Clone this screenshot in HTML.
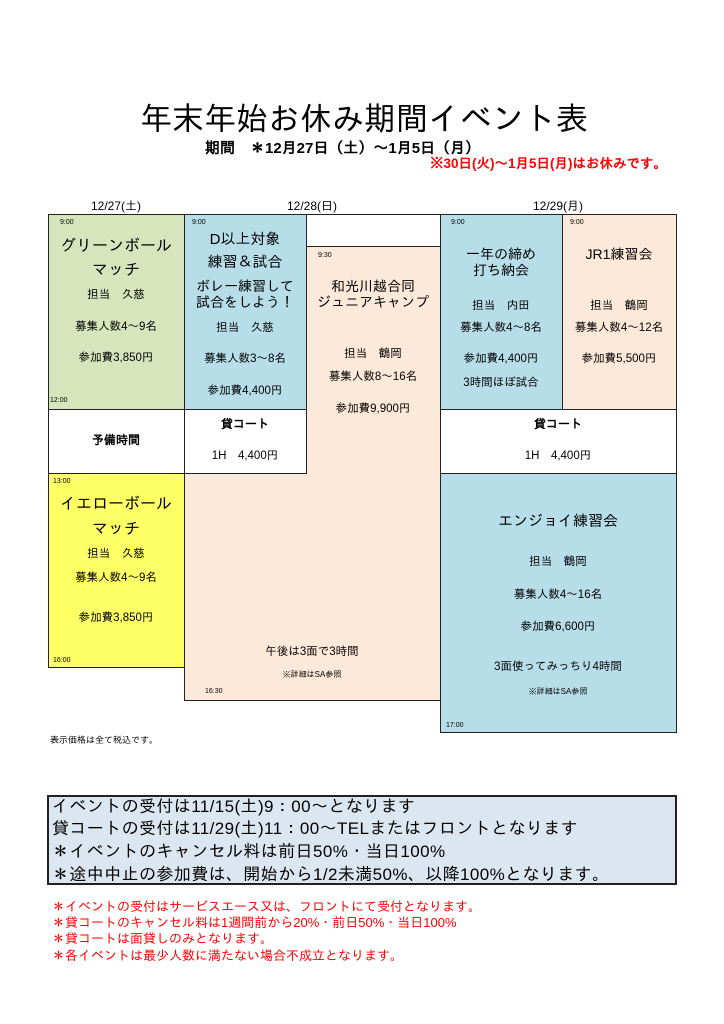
<!DOCTYPE html>
<html><head><meta charset="utf-8"><style>
body{margin:0;width:724px;height:1024px;background:#fff;position:relative;overflow:hidden;font-family:"Liberation Sans","IPAGothic","Noto Sans CJK JP",sans-serif;color:#000}
.b{position:absolute;box-sizing:border-box;border:1px solid #222}
.t{position:absolute;white-space:nowrap;line-height:1;text-align:center}
.s{position:absolute;white-space:nowrap;line-height:1;font-size:7px}
.m{font-size:11.5px}
</style></head><body>
<div class="t" style="left:140px;top:103px;font-size:32px;text-align:left">年末年始お休み期間イベント表</div>
<div class="t" style="left:205px;top:141px;font-size:15px;font-weight:bold;text-align:left">期間　＊12月27日（土）～1月5日（月）</div>
<div class="t" style="left:430px;top:157px;font-size:13.5px;font-weight:bold;color:#f00;text-align:left">※30日(火)～1月5日(月)はお休みです。</div>

<div class="t" style="left:48px;width:136px;top:200px;font-size:12px">12/27(土)</div>
<div class="t" style="left:184px;width:256px;top:200px;font-size:12px">12/28(日)</div>
<div class="t" style="left:440px;width:236px;top:200px;font-size:12px">12/29(月)</div>

<div class="b" style="left:48px;top:214px;width:137px;height:196px;background:#d8e4bc"></div>
<div class="b" style="left:184px;top:214px;width:123px;height:196px;background:#b7dde8"></div>
<div class="b" style="left:306px;top:214px;width:135px;height:33px;background:#fff"></div>
<div class="b" style="left:306px;top:246px;width:135px;height:228px;background:#fde9d9;border-bottom:none"></div>
<div class="b" style="left:184px;top:473px;width:257px;height:228px;background:#fde9d9;border-top:none"></div>
<div style="position:absolute;left:307px;top:470px;width:133px;height:6px;background:#fde9d9"></div>
<div class="b" style="left:440px;top:214px;width:123px;height:196px;background:#b7dde8"></div>
<div class="b" style="left:562px;top:214px;width:115px;height:196px;background:#fde9d9"></div>
<div class="b" style="left:48px;top:409px;width:137px;height:65px;background:#fff"></div>
<div class="b" style="left:184px;top:409px;width:123px;height:65px;background:#fff"></div>
<div class="b" style="left:440px;top:409px;width:237px;height:65px;background:#fff"></div>
<div class="b" style="left:48px;top:473px;width:137px;height:195px;background:#ffff66"></div>
<div class="b" style="left:440px;top:473px;width:237px;height:260px;background:#b7dde8"></div>

<div class="s" style="left:60px;top:219px">9:00</div>
<div class="t" style="left:48px;width:136px;top:239px;font-size:16px">グリーンボール</div>
<div class="t" style="left:48px;width:136px;top:263px;font-size:16px">マッチ</div>
<div class="t m" style="left:48px;width:136px;top:290px">担当　久慈</div>
<div class="t m" style="left:48px;width:136px;top:322px">募集人数4～9名</div>
<div class="t m" style="left:48px;width:136px;top:353px">参加費3,850円</div>
<div class="s" style="left:50px;top:397px">12:00</div>

<div class="s" style="left:192px;top:219px">9:00</div>
<div class="t" style="left:184px;width:122px;top:232px;font-size:15px">D以上対象</div>
<div class="t" style="left:184px;width:122px;top:255px;font-size:15px">練習＆試合</div>
<div class="t" style="left:184px;width:122px;top:279px;font-size:14px">ボレー練習して</div>
<div class="t" style="left:184px;width:122px;top:295px;font-size:14px">試合をしよう！</div>
<div class="t m" style="left:184px;width:122px;top:323px">担当　久慈</div>
<div class="t m" style="left:184px;width:122px;top:354px">募集人数3～8名</div>
<div class="t m" style="left:184px;width:122px;top:386px">参加費4,400円</div>

<div class="s" style="left:318px;top:252px">9:30</div>
<div class="t" style="left:306px;width:134px;top:279px;font-size:14px">和光川越合同</div>
<div class="t" style="left:306px;width:134px;top:295px;font-size:14px">ジュニアキャンプ</div>
<div class="t m" style="left:306px;width:134px;top:349px">担当　鶴岡</div>
<div class="t m" style="left:306px;width:134px;top:372px">募集人数8～16名</div>
<div class="t m" style="left:306px;width:134px;top:404px">参加費9,900円</div>

<div class="s" style="left:451px;top:219px">9:00</div>
<div class="t" style="left:440px;width:122px;top:247px;font-size:14px">一年の締め</div>
<div class="t" style="left:440px;width:122px;top:263px;font-size:14px">打ち納会</div>
<div class="t m" style="left:440px;width:122px;top:301px">担当　内田</div>
<div class="t m" style="left:440px;width:122px;top:323px">募集人数4～8名</div>
<div class="t m" style="left:440px;width:122px;top:354px">参加費4,400円</div>
<div class="t m" style="left:440px;width:122px;top:378px">3時間ほぼ試合</div>

<div class="s" style="left:570px;top:219px">9:00</div>
<div class="t" style="left:562px;width:114px;top:247px;font-size:14px">JR1練習会</div>
<div class="t m" style="left:562px;width:114px;top:301px">担当　鶴岡</div>
<div class="t m" style="left:562px;width:114px;top:323px">募集人数4～12名</div>
<div class="t m" style="left:562px;width:114px;top:354px">参加費5,500円</div>

<div class="t" style="left:48px;width:136px;top:434px;font-size:12px;font-weight:bold">予備時間</div>
<div class="t" style="left:184px;width:122px;top:418px;font-size:12px;font-weight:bold">貸コート</div>
<div class="t m" style="left:184px;width:122px;top:451px">1H　4,400円</div>
<div class="t" style="left:440px;width:236px;top:418px;font-size:12px;font-weight:bold">貸コート</div>
<div class="t m" style="left:440px;width:236px;top:451px">1H　4,400円</div>

<div class="s" style="left:53px;top:478px">13:00</div>
<div class="t" style="left:48px;width:136px;top:497px;font-size:16px">イエローボール</div>
<div class="t" style="left:48px;width:136px;top:522px;font-size:16px">マッチ</div>
<div class="t m" style="left:48px;width:136px;top:549px">担当　久慈</div>
<div class="t m" style="left:48px;width:136px;top:573px">募集人数4～9名</div>
<div class="t m" style="left:48px;width:136px;top:613px">参加費3,850円</div>
<div class="s" style="left:53px;top:657px">16:00</div>

<div class="t m" style="left:184px;width:256px;top:647px">午後は3面で3時間</div>
<div class="t" style="left:184px;width:256px;top:671px;font-size:8px">※詳細はSA参照</div>
<div class="s" style="left:205px;top:688px">16:30</div>

<div class="t" style="left:440px;width:236px;top:514px;font-size:15px">エンジョイ練習会</div>
<div class="t m" style="left:440px;width:236px;top:557px">担当　鶴岡</div>
<div class="t m" style="left:440px;width:236px;top:590px">募集人数4～16名</div>
<div class="t m" style="left:440px;width:236px;top:622px">参加費6,600円</div>
<div class="t m" style="left:440px;width:236px;top:662px">3面使ってみっちり4時間</div>
<div class="t" style="left:440px;width:236px;top:688px;font-size:8px">※詳細はSA参照</div>
<div class="s" style="left:446px;top:722px">17:00</div>

<div class="t" style="left:50px;top:736px;font-size:9px;text-align:left">表示価格は全て税込です。</div>

<div class="b" style="left:47px;top:795px;width:630px;height:90px;background:#dce6f1;border:2px solid #222"></div>
<div class="t" style="left:52px;top:798px;font-size:17px;letter-spacing:0.4px;text-align:left">イベントの受付は11/15(土)9：00～となります</div>
<div class="t" style="left:52px;top:820px;font-size:17px;letter-spacing:0.4px;text-align:left">貸コートの受付は11/29(土)11：00～TELまたはフロントとなります</div>
<div class="t" style="left:52px;top:843px;font-size:17px;letter-spacing:0.4px;text-align:left">＊イベントのキャンセル料は前日50%・当日100%</div>
<div class="t" style="left:52px;top:866px;font-size:17px;letter-spacing:0.4px;text-align:left">＊途中中止の参加費は、開始から1/2未満50%、以降100%となります。</div>

<div class="t" style="left:52px;top:900px;font-size:13px;color:#f00;text-align:left">＊イベントの受付はサービスエース又は、フロントにて受付となります。</div>
<div class="t" style="left:52px;top:916px;font-size:13px;color:#f00;text-align:left">＊貸コートのキャンセル料は1週間前から20%・前日50%・当日100%</div>
<div class="t" style="left:52px;top:932px;font-size:13px;color:#f00;text-align:left">＊貸コートは面貸しのみとなります。</div>
<div class="t" style="left:52px;top:949px;font-size:13px;color:#f00;text-align:left">＊各イベントは最少人数に満たない場合不成立となります。</div>
</body></html>
